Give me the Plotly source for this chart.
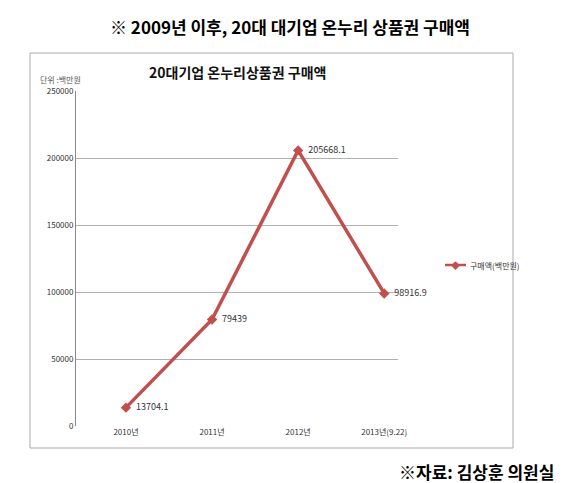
import plotly.graph_objects as go

years = ["2010년", "2011년", "2012년", "2013년(9.22)"]
values = [13704.1, 79439, 205668.1, 98916.9]
labels = ["13704.1", "79439", "205668.1", "98916.9"]
yticks = [0, 50000, 100000, 150000, 200000, 250000]

W, H = 564, 483
L, R, T, B = 68, 390, 83, 418
def px(x): return (x - L) / (R - L)
def py(y): return (B - y) / (B - T)

color = "#C0504D"
fig = go.Figure()
fig.add_trace(go.Scatter(
    x=list(range(len(years))), y=values, mode="lines+markers+text",
    name="구매액(백만원)", line=dict(color=color, width=3.5),
    marker=dict(symbol="diamond", size=8, color=color),
    text=["  " + t for t in labels], textposition="middle right", cliponaxis=False,
    textfont=dict(size=9, color="#333", family="Noto Sans CJK KR"),
))
fig.update_layout(
    width=W, height=H, margin=dict(l=L, r=W - R, t=T, b=H - B),
    paper_bgcolor="white", plot_bgcolor="white", showlegend=False,
    font=dict(family="Noto Sans CJK KR", color="#333"),
    xaxis=dict(range=[-0.58, 3.16], tickvals=list(range(len(years))), ticktext=years,
               showgrid=False, zeroline=False, showline=False, ticks="",
               tickfont=dict(size=8), fixedrange=True),
    yaxis=dict(range=[0, 250000], tickvals=yticks, ticktext=[str(v) for v in yticks],
               gridcolor="#b0b0b0", gridwidth=1, zeroline=False,
               showline=True, linecolor="#888", tickfont=dict(size=8), fixedrange=True),
)
fig.add_shape(type="rect", xref="paper", yref="paper", x0=px(22), x1=px(505),
              y0=py(440), y1=py(45), line=dict(color="#aaa", width=1))
fig.add_shape(type="line", xref="paper", yref="paper", x0=px(437), x1=px(458),
              y0=py(257), y1=py(257), line=dict(color=color, width=2.5))
anns = [
    (18, "<b>※ 2009년 이후, 20대 대기업 온누리 상품권 구매액</b>", 17, "center", "#000", 282),
    (64, "<b>20대기업 온누리상품권 구매액</b>", 14, "center", "#111", 230),
    (71, "단위 :백만원", 8, "left", "#555", 30),
    (257, "구매액(백만원)", 8, "left", "#333", 460),
    (463, "<b>※자료: 김상훈 의원실</b>", 17, "right", "#000", 548),
]
for y, t, s, a, c, x in anns:
    fig.add_annotation(xref="paper", yref="paper", x=px(x), y=py(y), text=t, showarrow=False,
                       xanchor=a, yanchor="middle", font=dict(size=s, color=c))
fig.add_annotation(xref="paper", yref="paper", x=px(447), y=py(257), text="◆", showarrow=False,
                   font=dict(size=9, color=color), xanchor="center", yanchor="middle")
fig.write_html("out.html")
